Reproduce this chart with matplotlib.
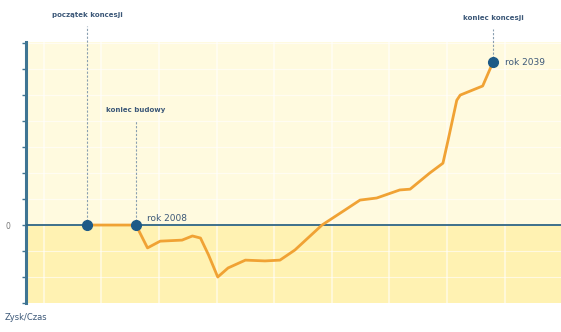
import numpy as np
import matplotlib.pyplot as plt

# profit curve over time (years, profit units)
years = [2003.75, 2008.0, 2009.0, 2010.1, 2012.0, 2012.9, 2013.6, 2014.3, 2015.1,
         2016.0, 2017.5, 2019.2, 2020.5, 2021.8, 2024.15, 2026.15, 2027.45,
         2028.9, 2030.9, 2031.8, 2033.5, 2034.65, 2035.1, 2035.85, 2036.15,
         2038.1, 2039.0]
profit = [0.0, 0.0, -0.88, -0.62, -0.58, -0.42, -0.5, -1.15, -2.0,
          -1.65, -1.35, -1.38, -1.35, -0.96, 0.0, 0.58, 0.96,
          1.04, 1.35, 1.38, 2.0, 2.38, 3.27, 4.8, 5.0,
          5.35, 6.27]

# milestones
event_years = [2003.75, 2008.0, 2039.0]
event_values = [0.0, 0.0, 6.27]
event_labels = ["początek koncesji", "koniec budowy", "koniec koncesji"]
event_label_y = [7.95, 4.3, 7.85]
year_labels = ["rok 2008", "rok 2039"]

blue = "#1d5a87"
axis_blue = "#3f7593"
text_col = "#3c5878"

fig = plt.figure(figsize=(5.61, 3.32), dpi=100)
ax = fig.add_axes([0.0463, 0.0873, 0.9537, 0.786])
ax.set_xlim(1998.45, 2044.9)
ax.set_ylim(-3, 7.04)

# background bands
ax.axhspan(0, 7.04, color="#fffadf", zorder=0)
ax.axhspan(-3, 0, color="#fff2b2", zorder=0)
for yv in range(-2, 8):
    ax.axhline(yv, color="white", lw=0.8, alpha=0.6, zorder=1)
for xv in range(2000, 2045, 5):
    ax.axvline(xv, color="white", lw=1.5, alpha=0.5, zorder=1)

for s in ["top", "right", "bottom"]:
    ax.spines[s].set_visible(False)
ax.spines["left"].set_color(axis_blue)
ax.spines["left"].set_linewidth(2.2)
ax.set_xticks([])
ax.set_yticks(range(-3, 8))
ax.set_yticklabels(["0" if v == 0 else "" for v in range(-3, 8)])
ax.tick_params(axis="y", length=3, width=1, color=axis_blue,
               labelsize=5.5, labelcolor="#777777", pad=8)

ax.axhline(0, color="#2e6585", lw=1.3, zorder=3)

# dashed milestone lines
for x, v, lab, ly in zip(event_years, event_values, event_labels, event_label_y):
    ax.plot([x, x], [v, ly - 0.3], ls=(0, (2, 1.5)), color="#8a9fb0", lw=0.8,
            clip_on=False, zorder=2)
    ax.text(x, ly, lab, ha="center", va="bottom", fontsize=5, color=text_col,
            fontweight="bold", clip_on=False)

ax.plot(years, profit, color="#f0a234", lw=2.0, solid_joinstyle="round",
        solid_capstyle="round", zorder=4)
ax.plot(event_years, event_values, "o", color=blue, ms=7, zorder=5)

ax.text(2009.0, 0.08, year_labels[0], fontsize=6.5, color=text_col, va="bottom")
ax.text(2040.0, 6.27, year_labels[1], fontsize=6.5, color=text_col, va="center")

fig.text(0.008, 0.035, "Zysk/Czas", fontsize=6, color=text_col)

fig.savefig("out.png", dpi=100)
